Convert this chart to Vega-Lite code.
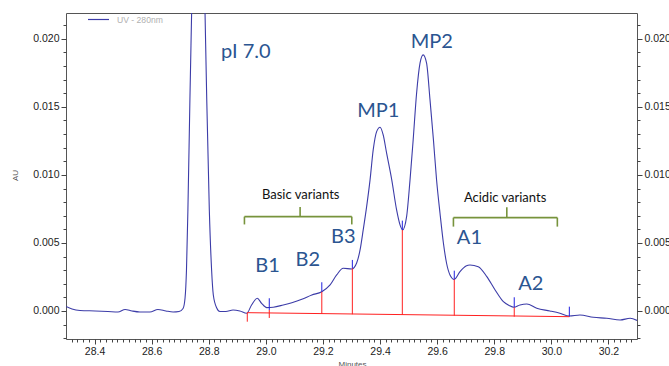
{
  "$schema": "https://vega.github.io/schema/vega-lite/v6.json",
  "width": 571,
  "height": 326,
  "autosize": {"type": "none"},
  "padding": {"left": 66, "top": 13, "right": 32, "bottom": 27},
  "background": "white",
  "config": {
    "view": {"stroke": "#555", "strokeWidth": 1},
    "axis": {"grid": false, "domain": false, "labelFont": "Liberation Sans", "labelFontSize": 10.5, "labelColor": "#222", "tickColor": "#444", "titleFont": "Liberation Sans", "titleFontWeight": "normal", "titleFontSize": 8, "titleColor": "#555"}
  },
  "datasets": {
    "trace": [
      {"t": 28.300, "v": 0.000331, "s": "UV - 280nm"},
      {"t": 28.321, "v": 0.000147, "s": "UV - 280nm"},
      {"t": 28.349, "v": 0.000037, "s": "UV - 280nm"},
      {"t": 28.402, "v": 0.0, "s": "UV - 280nm"},
      {"t": 28.447, "v": -0.000037, "s": "UV - 280nm"},
      {"t": 28.482, "v": -0.000074, "s": "UV - 280nm"},
      {"t": 28.507, "v": 0.000110, "s": "UV - 280nm"},
      {"t": 28.531, "v": 0.0, "s": "UV - 280nm"},
      {"t": 28.559, "v": -0.000074, "s": "UV - 280nm"},
      {"t": 28.594, "v": -0.000074, "s": "UV - 280nm"},
      {"t": 28.622, "v": 0.000110, "s": "UV - 280nm"},
      {"t": 28.650, "v": 0.0, "s": "UV - 280nm"},
      {"t": 28.675, "v": -0.000074, "s": "UV - 280nm"},
      {"t": 28.696, "v": -0.000037, "s": "UV - 280nm"},
      {"t": 28.710, "v": 0.000184, "s": "UV - 280nm"},
      {"t": 28.717, "v": 0.000956, "s": "UV - 280nm"},
      {"t": 28.722, "v": 0.003015, "s": "UV - 280nm"},
      {"t": 28.727, "v": 0.007426, "s": "UV - 280nm"},
      {"t": 28.734, "v": 0.015515, "s": "UV - 280nm"},
      {"t": 28.740, "v": 0.0219, "s": "UV - 280nm"},
      {"t": 28.763, "v": 0.047, "s": "UV - 280nm"},
      {"t": 28.787, "v": 0.0219, "s": "UV - 280nm"},
      {"t": 28.793, "v": 0.015515, "s": "UV - 280nm"},
      {"t": 28.802, "v": 0.007426, "s": "UV - 280nm"},
      {"t": 28.810, "v": 0.003015, "s": "UV - 280nm"},
      {"t": 28.816, "v": 0.001176, "s": "UV - 280nm"},
      {"t": 28.828, "v": 0.000221, "s": "UV - 280nm"},
      {"t": 28.839, "v": -0.000037, "s": "UV - 280nm"},
      {"t": 28.860, "v": -0.000037, "s": "UV - 280nm"},
      {"t": 28.885, "v": 0.000074, "s": "UV - 280nm"},
      {"t": 28.909, "v": 0.0, "s": "UV - 280nm"},
      {"t": 28.933, "v": -0.000169, "s": "UV - 280nm"},
      {"t": 28.950, "v": 0.000441, "s": "UV - 280nm"},
      {"t": 28.970, "v": 0.000934, "s": "UV - 280nm"},
      {"t": 28.985, "v": 0.000566, "s": "UV - 280nm"},
      {"t": 29.003, "v": 0.000243, "s": "UV - 280nm"},
      {"t": 29.026, "v": 0.000272, "s": "UV - 280nm"},
      {"t": 29.061, "v": 0.000441, "s": "UV - 280nm"},
      {"t": 29.091, "v": 0.000610, "s": "UV - 280nm"},
      {"t": 29.126, "v": 0.000860, "s": "UV - 280nm"},
      {"t": 29.161, "v": 0.001176, "s": "UV - 280nm"},
      {"t": 29.196, "v": 0.001419, "s": "UV - 280nm"},
      {"t": 29.225, "v": 0.001912, "s": "UV - 280nm"},
      {"t": 29.248, "v": 0.002647, "s": "UV - 280nm"},
      {"t": 29.271, "v": 0.003140, "s": "UV - 280nm"},
      {"t": 29.301, "v": 0.003088, "s": "UV - 280nm"},
      {"t": 29.318, "v": 0.003529, "s": "UV - 280nm"},
      {"t": 29.330, "v": 0.004485, "s": "UV - 280nm"},
      {"t": 29.341, "v": 0.005956, "s": "UV - 280nm"},
      {"t": 29.353, "v": 0.007669, "s": "UV - 280nm"},
      {"t": 29.365, "v": 0.009632, "s": "UV - 280nm"},
      {"t": 29.376, "v": 0.011838, "s": "UV - 280nm"},
      {"t": 29.388, "v": 0.013184, "s": "UV - 280nm"},
      {"t": 29.400, "v": 0.013507, "s": "UV - 280nm"},
      {"t": 29.411, "v": 0.012941, "s": "UV - 280nm"},
      {"t": 29.423, "v": 0.011596, "s": "UV - 280nm"},
      {"t": 29.441, "v": 0.009632, "s": "UV - 280nm"},
      {"t": 29.458, "v": 0.007426, "s": "UV - 280nm"},
      {"t": 29.470, "v": 0.006324, "s": "UV - 280nm"},
      {"t": 29.479, "v": 0.005956, "s": "UV - 280nm"},
      {"t": 29.493, "v": 0.006934, "s": "UV - 280nm"},
      {"t": 29.505, "v": 0.009632, "s": "UV - 280nm"},
      {"t": 29.516, "v": 0.012574, "s": "UV - 280nm"},
      {"t": 29.528, "v": 0.016007, "s": "UV - 280nm"},
      {"t": 29.540, "v": 0.018213, "s": "UV - 280nm"},
      {"t": 29.551, "v": 0.018824, "s": "UV - 280nm"},
      {"t": 29.563, "v": 0.018213, "s": "UV - 280nm"},
      {"t": 29.575, "v": 0.015515, "s": "UV - 280nm"},
      {"t": 29.587, "v": 0.012574, "s": "UV - 280nm"},
      {"t": 29.598, "v": 0.009632, "s": "UV - 280nm"},
      {"t": 29.610, "v": 0.007184, "s": "UV - 280nm"},
      {"t": 29.622, "v": 0.004978, "s": "UV - 280nm"},
      {"t": 29.633, "v": 0.003507, "s": "UV - 280nm"},
      {"t": 29.645, "v": 0.002647, "s": "UV - 280nm"},
      {"t": 29.660, "v": 0.002316, "s": "UV - 280nm"},
      {"t": 29.680, "v": 0.002890, "s": "UV - 280nm"},
      {"t": 29.701, "v": 0.003309, "s": "UV - 280nm"},
      {"t": 29.715, "v": 0.003382, "s": "UV - 280nm"},
      {"t": 29.744, "v": 0.003257, "s": "UV - 280nm"},
      {"t": 29.774, "v": 0.002522, "s": "UV - 280nm"},
      {"t": 29.803, "v": 0.001544, "s": "UV - 280nm"},
      {"t": 29.832, "v": 0.000684, "s": "UV - 280nm"},
      {"t": 29.852, "v": 0.000404, "s": "UV - 280nm"},
      {"t": 29.869, "v": 0.000272, "s": "UV - 280nm"},
      {"t": 29.890, "v": 0.000441, "s": "UV - 280nm"},
      {"t": 29.914, "v": 0.000515, "s": "UV - 280nm"},
      {"t": 29.949, "v": 0.000199, "s": "UV - 280nm"},
      {"t": 29.995, "v": 0.0, "s": "UV - 280nm"},
      {"t": 30.030, "v": -0.000169, "s": "UV - 280nm"},
      {"t": 30.063, "v": -0.000368, "s": "UV - 280nm"},
      {"t": 30.100, "v": -0.000294, "s": "UV - 280nm"},
      {"t": 30.147, "v": -0.000463, "s": "UV - 280nm"},
      {"t": 30.194, "v": -0.000537, "s": "UV - 280nm"},
      {"t": 30.241, "v": -0.000662, "s": "UV - 280nm"},
      {"t": 30.276, "v": -0.000537, "s": "UV - 280nm"},
      {"t": 30.300, "v": -0.000699, "s": "UV - 280nm"}
    ],
    "redDrops": [
      {"t": 28.935, "a": -0.000125, "b": -0.000787},
      {"t": 29.012, "a": 0.000074, "b": -0.000515},
      {"t": 29.196, "a": 0.001419, "b": -0.000221},
      {"t": 29.303, "a": 0.00314, "b": -0.000243},
      {"t": 29.478, "a": 0.005956, "b": -0.000294},
      {"t": 29.660, "a": 0.002331, "b": -0.000346},
      {"t": 29.870, "a": 0.000272, "b": -0.000419}
    ],
    "blueTicks": [
      {"t": 29.012, "a": 0.000934, "b": 0.000074},
      {"t": 29.196, "a": 0.00211, "b": 0.001419},
      {"t": 29.303, "a": 0.00375, "b": 0.00314},
      {"t": 29.478, "a": 0.00664, "b": 0.005956},
      {"t": 29.660, "a": 0.002963, "b": 0.002331},
      {"t": 29.870, "a": 0.001007, "b": 0.000272},
      {"t": 30.063, "a": 0.000316, "b": -0.000419}
    ],
    "baseline": [
      {"t": 28.935, "v": -0.000125},
      {"t": 30.063, "v": -0.000419}
    ],
    "brackets": [
      {"x1": 28.925, "x2": 29.301, "y1": 0.006934, "y2": 0.006934},
      {"x1": 28.925, "x2": 28.925, "y1": 0.006934, "y2": 0.00636},
      {"x1": 29.301, "x2": 29.301, "y1": 0.006934, "y2": 0.00636},
      {"x1": 29.120, "x2": 29.120, "y1": 0.006934, "y2": 0.007647},
      {"x1": 29.657, "x2": 30.021, "y1": 0.00686, "y2": 0.00686},
      {"x1": 29.657, "x2": 29.657, "y1": 0.00686, "y2": 0.0062},
      {"x1": 30.021, "x2": 30.021, "y1": 0.00686, "y2": 0.0062},
      {"x1": 29.844, "x2": 29.844, "y1": 0.00686, "y2": 0.007625}
    ],
    "blueLabels": [
      {"t": 28.930, "v": 0.018625, "label": "pI 7.0"},
      {"t": 29.394, "v": 0.01424, "label": "MP1"},
      {"t": 29.581, "v": 0.019316, "label": "MP2"},
      {"t": 29.006, "v": 0.00289, "label": "B1"},
      {"t": 29.147, "v": 0.003309, "label": "B2"},
      {"t": 29.271, "v": 0.004978, "label": "B3"},
      {"t": 29.713, "v": 0.004926, "label": "A1"},
      {"t": 29.928, "v": 0.001544, "label": "A2"}
    ],
    "blackLabels": [
      {"t": 29.122, "v": 0.008235, "label": "Basic variants"},
      {"t": 29.838, "v": 0.008037, "label": "Acidic variants"}
    ]
  },
  "resolve": {"axis": {"x": "independent", "y": "independent"}},
  "layer": [
    {
      "data": {"name": "trace"},
      "mark": {"type": "line", "clip": true, "strokeWidth": 1.1, "interpolate": "monotone"},
      "encoding": {
        "x": {"field": "t", "type": "quantitative", "scale": {"domain": [28.3, 30.3], "nice": false, "zero": false},
              "axis": {"orient": "bottom", "values": [28.4, 28.6, 28.8, 29.0, 29.2, 29.4, 29.6, 29.8, 30.0, 30.2], "format": ".1f", "tickSize": 5, "labelPadding": 2, "title": "Minutes", "titleX": 286, "titleY": 21, "titleBaseline": "top", "titleAnchor": "middle"}},
        "y": {"field": "v", "type": "quantitative", "scale": {"domain": [-0.00206, 0.0219], "nice": false, "zero": false},
              "axis": {"orient": "left", "values": [0, 0.005, 0.01, 0.015, 0.02], "format": ".3f", "tickSize": 5, "labelPadding": 2, "title": "AU", "titleX": -51, "titleY": 162, "titleAngle": -90, "titleBaseline": "middle", "titleAlign": "center"}},
        "color": {"field": "s", "type": "nominal", "scale": {"range": ["#3c3ca8"]},
                  "legend": {"orient": "none", "legendX": 21, "legendY": -5, "title": null, "symbolType": "stroke", "symbolSize": 441, "symbolStrokeWidth": 1.2, "labelFont": "Liberation Sans", "labelFontSize": 8.6, "labelColor": "#b0b0b0", "labelOffset": 7, "padding": 0}}
      }
    },
    {
      "data": {"name": "redDrops"},
      "mark": {"type": "rule", "color": "#ff2020", "strokeWidth": 1},
      "encoding": {
        "x": {"field": "t", "type": "quantitative", "scale": {"domain": [28.3, 30.3], "nice": false, "zero": false},
              "axis": {"orient": "bottom", "values": [28.32, 28.34, 28.36, 28.38, 28.42, 28.44, 28.46, 28.48, 28.5, 28.52, 28.54, 28.56, 28.58, 28.62, 28.64, 28.66, 28.68, 28.7, 28.72, 28.74, 28.76, 28.78, 28.82, 28.84, 28.86, 28.88, 28.9, 28.92, 28.94, 28.96, 28.98, 29.02, 29.04, 29.06, 29.08, 29.1, 29.12, 29.14, 29.16, 29.18, 29.22, 29.24, 29.26, 29.28, 29.3, 29.32, 29.34, 29.36, 29.38, 29.42, 29.44, 29.46, 29.48, 29.5, 29.52, 29.54, 29.56, 29.58, 29.62, 29.64, 29.66, 29.68, 29.7, 29.72, 29.74, 29.76, 29.78, 29.82, 29.84, 29.86, 29.88, 29.9, 29.92, 29.94, 29.96, 29.98, 30.02, 30.04, 30.06, 30.08, 30.1, 30.12, 30.14, 30.16, 30.18, 30.22, 30.24, 30.26, 30.28], "labels": false, "tickSize": 3, "title": null}},
        "y": {"field": "a", "type": "quantitative", "scale": {"domain": [-0.00206, 0.0219], "nice": false, "zero": false},
              "axis": {"orient": "right", "values": [0, 0.005, 0.01, 0.015, 0.02], "format": ".3f", "tickSize": 5, "labelPadding": 2, "title": null}},
        "y2": {"field": "b"}
      }
    },
    {
      "data": {"name": "blueTicks"},
      "mark": {"type": "rule", "color": "#2020e0", "strokeWidth": 1},
      "encoding": {
        "x": {"field": "t", "type": "quantitative", "scale": {"domain": [28.3, 30.3], "nice": false, "zero": false}, "axis": null},
        "y": {"field": "a", "type": "quantitative", "scale": {"domain": [-0.00206, 0.0219], "nice": false, "zero": false},
              "axis": {"orient": "left", "values": [-0.002, -0.001, 0.001, 0.002, 0.003, 0.004, 0.006, 0.007, 0.008, 0.009, 0.011, 0.012, 0.013, 0.014, 0.016, 0.017, 0.018, 0.019, 0.021], "labels": false, "tickSize": 3, "title": null}},
        "y2": {"field": "b"}
      }
    },
    {
      "data": {"name": "baseline"},
      "mark": {"type": "line", "color": "#ff2020", "strokeWidth": 1},
      "encoding": {
        "x": {"field": "t", "type": "quantitative", "scale": {"domain": [28.3, 30.3], "nice": false, "zero": false}, "axis": null},
        "y": {"field": "v", "type": "quantitative", "scale": {"domain": [-0.00206, 0.0219], "nice": false, "zero": false},
              "axis": {"orient": "right", "values": [-0.002, -0.001, 0.001, 0.002, 0.003, 0.004, 0.006, 0.007, 0.008, 0.009, 0.011, 0.012, 0.013, 0.014, 0.016, 0.017, 0.018, 0.019, 0.021], "labels": false, "tickSize": 3, "title": null}}
      }
    },
    {
      "data": {"name": "brackets"},
      "mark": {"type": "rule", "color": "#77933c", "strokeWidth": 1.6},
      "encoding": {
        "x": {"field": "x1", "type": "quantitative", "scale": {"domain": [28.3, 30.3], "nice": false, "zero": false}, "axis": null},
        "x2": {"field": "x2"},
        "y": {"field": "y1", "type": "quantitative", "scale": {"domain": [-0.00206, 0.0219], "nice": false, "zero": false}, "axis": null},
        "y2": {"field": "y2"}
      }
    },
    {
      "data": {"name": "blueLabels"},
      "mark": {"type": "text", "font": "Lato", "fontSize": 20, "color": "#2b5591", "align": "center", "baseline": "alphabetic"},
      "encoding": {
        "x": {"field": "t", "type": "quantitative", "scale": {"domain": [28.3, 30.3], "nice": false, "zero": false}, "axis": null},
        "y": {"field": "v", "type": "quantitative", "scale": {"domain": [-0.00206, 0.0219], "nice": false, "zero": false}, "axis": null},
        "text": {"field": "label"}
      }
    },
    {
      "data": {"name": "blackLabels"},
      "mark": {"type": "text", "font": "Lato", "fontSize": 13, "color": "#111", "align": "center", "baseline": "alphabetic"},
      "encoding": {
        "x": {"field": "t", "type": "quantitative", "scale": {"domain": [28.3, 30.3], "nice": false, "zero": false}, "axis": null},
        "y": {"field": "v", "type": "quantitative", "scale": {"domain": [-0.00206, 0.0219], "nice": false, "zero": false}, "axis": null},
        "text": {"field": "label"}
      }
    }
  ]
}
